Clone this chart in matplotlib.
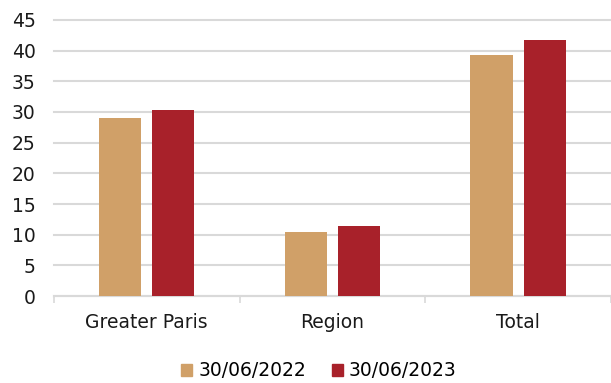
import matplotlib.pyplot as plt
import numpy as np
from matplotlib.patches import Patch

categories = ["Greater Paris", "Region", "Total"]
series_labels = ["30/06/2022", "30/06/2023"]
values_2022 = [29.0, 10.4, 39.3]
values_2023 = [30.3, 11.4, 41.8]
y_ticks = [0, 5, 10, 15, 20, 25, 30, 35, 40, 45]

colors = ["#D0A068", "#A8212A"]

plt.rcParams['font.family'] = ['DejaVu Sans']

fig = plt.figure(figsize=(6.11, 3.83), dpi=100)
ax = fig.add_axes([0.088, 0.227, 0.912, 0.721])

x = np.arange(len(categories))
width = 0.227
offset = 0.143
ax.bar(x - offset, values_2022, width, color=colors[0], zorder=3)
ax.bar(x + offset, values_2023, width, color=colors[1], zorder=3)

ax.set_ylim(0, 45)
ax.set_xlim(-0.5, len(categories) - 0.5)
ax.set_yticks(y_ticks)
ax.yaxis.grid(True, color="#d9d9d9", linewidth=1.5, zorder=0, clip_on=False)
ax.tick_params(axis="y", length=0, labelsize=13.5, pad=13, colors="#1a1a1a")

ax.set_xticks(x)
ax.set_xticklabels(categories)
ax.tick_params(axis="x", which="major", length=0, labelsize=13.5, pad=12,
               colors="#1a1a1a")
ax.set_xticks(np.arange(-0.5, len(categories), 1.0), minor=True)
ax.tick_params(axis="x", which="minor", length=5, width=1.2, color="#d9d9d9")

for side in ["top", "right", "left"]:
    ax.spines[side].set_visible(False)
ax.spines["bottom"].set_color("#d9d9d9")
ax.spines["bottom"].set_linewidth(1.5)

handles = [Patch(color=c, label=l) for c, l in zip(colors, series_labels)]
fig.legend(handles=handles, loc="center", bbox_to_anchor=(0.522, 0.032),
           ncol=2, frameon=False, fontsize=13.5, handlelength=0.6,
           handleheight=0.6, handletextpad=0.3, columnspacing=1.4)

fig.savefig("out.png", dpi=100)
